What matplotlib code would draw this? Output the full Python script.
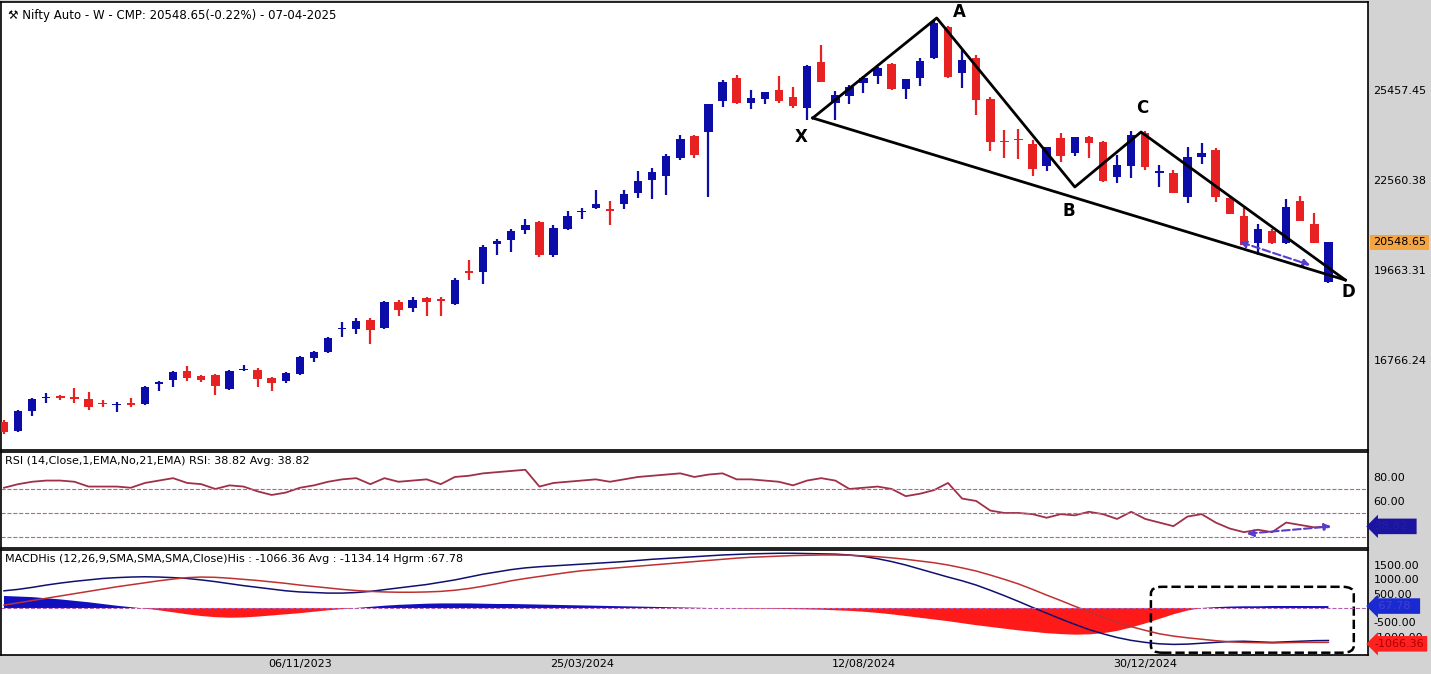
import numpy as np
import matplotlib
matplotlib.use("Agg")
import matplotlib.pyplot as plt
from matplotlib.patches import FancyBboxPatch

# ---------------- data ----------------
opens = [14770,14480,15124,15542,15607,15575,15510,15381,15317,15381,
         15349,15993,16122,16412,16251,16283,15832,16444,16444,16186,
         16090,16315,16830,17023,17764,17764,18054,17796,18633,18440,
         18761,18729,18568,19630,19598,20500,20629,20950,21208,20145,
         20983,21530,21658,21626,21787,22141,22560,22688,23268,23976,
         24105,25103,25843,25038,25168,25457,25232,24877,26358,25038,
         25264,25682,25908,26294,25489,25843,26487,27485,26004,26487,
         25167,23815,23880,23719,23011,23912,23429,23944,23783,22656,
         23011,24073,22785,22785,22013,23300,23526,21980,21401,20532,
         20918,20532,21884,21143,19276]
highs = [14834,15156,15542,15703,15639,15864,15736,15478,15414,15542,
         15929,16090,16412,16573,16283,16315,16444,16605,16508,16219,
         16380,16895,17056,17506,17989,18118,18118,18665,18697,18794,
         18794,18794,19402,19985,20467,20661,20983,21304,21240,21111,
         21562,21658,22238,21884,22238,22850,22946,23397,24008,24008,
         25006,25779,25940,25457,25393,25908,25554,26262,26905,25425,
         25618,25908,26197,26326,25811,26487,27710,27517,26744,26583,
         25232,24169,24202,23847,23622,24073,23944,23976,23815,23365,
         24137,24137,23043,22882,23622,23751,23590,22045,21658,21143,
         20983,21948,22045,21497,20564]
lows = [14384,14448,14963,15381,15478,15381,15156,15253,15092,15253,
        15317,15768,15897,16090,16058,15639,15800,16412,15897,15768,
        16025,16283,16701,16991,17506,17603,17281,17764,18182,18311,
        18182,18182,18536,19338,19212,20145,20242,20822,20081,20081,
        20950,21304,21626,21111,21626,21980,21948,22077,23204,23268,
        22013,24910,25006,24845,25006,25038,24877,24491,25714,24491,
        25006,25360,25650,25457,25167,25586,26455,25843,25521,24652,
        23493,23268,23236,22688,22850,23139,23332,23268,22495,22463,
        22624,22882,22334,22141,21819,23075,21852,21465,20467,20145,
        20500,20500,21240,20532,19244]
closes = [14448,15124,15510,15575,15542,15510,15253,15349,15349,15317,
          15897,16058,16380,16186,16122,15929,16412,16476,16154,16025,
          16347,16862,17023,17474,17796,18021,17731,18633,18375,18697,
          18633,18665,19338,19566,20403,20596,20918,21111,20145,21015,
          21401,21562,21787,21562,22109,22528,22818,23332,23880,23365,
          25006,25714,25038,25200,25393,25103,24942,26229,25714,25296,
          25554,25843,26165,25489,25811,26390,27613,25875,26423,25135,
          23783,23783,23847,22914,23622,23332,23944,23751,22528,23043,
          24008,22978,22850,22141,23300,23429,22013,21465,20467,20983,
          20532,21691,21240,20532,20549]

rsi = [71,74,76,77,77,76,72,72,72,71,75,77,79,75,74,70,73,72,68,65,
       67,71,73,76,78,79,74,79,76,77,78,74,80,81,83,84,85,86,72,75,
       76,77,78,76,78,80,81,82,83,80,82,83,78,78,77,76,73,77,79,77,
       70,71,72,70,64,66,69,75,62,60,52,50,50,49,46,49,48,51,49,45,
       51,45,42,39,47,49,42,37,34,36,34,42,40,38,38.82]
macd = [600,650,720,800,870,930,980,1030,1060,1080,
        1090,1080,1060,1030,980,920,850,780,720,660,
        600,560,540,520,520,540,580,640,700,760,
        820,900,980,1080,1180,1260,1340,1400,1440,1470,
        1500,1530,1560,1590,1620,1660,1700,1730,1760,1790,
        1820,1850,1870,1890,1900,1910,1910,1900,1890,1880,
        1850,1800,1720,1620,1500,1360,1220,1080,950,800,
        620,430,230,20,-180,-380,-570,-750,-900,-1030,
        -1130,-1200,-1250,-1270,-1260,-1230,-1200,-1170,-1160,-1180,
        -1200,-1180,-1160,-1140,-1134]
signal = [100,180,260,340,420,500,580,660,740,810,
          880,950,1010,1060,1080,1070,1040,1000,960,910,
          860,800,750,700,650,610,580,560,550,550,
          560,580,620,680,760,850,950,1030,1100,1170,
          1240,1300,1340,1380,1420,1460,1500,1540,1580,1620,
          1660,1700,1740,1770,1790,1810,1830,1840,1850,1850,
          1840,1820,1790,1750,1700,1640,1580,1500,1400,1290,
          1150,1000,840,650,450,260,60,-130,-320,-500,
          -650,-780,-900,-980,-1040,-1090,-1140,-1180,-1200,-1210,
          -1220,-1210,-1200,-1200,-1200]
hist = [420,400,380,340,300,250,200,140,80,30,
        -20,-80,-150,-220,-280,-320,-340,-330,-300,-260,
        -220,-180,-130,-80,-40,0,40,80,110,130,
        150,160,160,160,150,140,140,130,120,110,
        100,90,80,70,60,50,40,30,20,10,
        0,0,-10,-20,-20,-30,-40,-50,-60,-80,
        -100,-130,-170,-220,-280,-340,-400,-460,-530,-600,
        -660,-720,-780,-830,-880,-910,-930,-920,-880,-800,
        -680,-540,-380,-220,-90,0,30,50,60,60,
        70,70,70,68,68]

price_ticks = [25457.45, 22560.38, 19663.31, 16766.24]
date_idx = [21, 41, 61, 81]
date_labels = ["06/11/2023", "25/03/2024", "12/08/2024", "30/12/2024"]
pat_names = ["X", "A", "B", "C", "D"]
pat_x = [57.4, 66.2, 76.0, 80.7, 95.2]
pat_y = [24556, 27775, 22335, 24105, 19341]

BLUE = "#0c0ca8"
RED = "#e82222"

fig = plt.figure(figsize=(14.31, 6.74), dpi=100, facecolor="#d3d3d3")
W, H = 1431, 674
def rect(x0, y0, x1, y1):
    return [x0 / W, 1 - y1 / H, (x1 - x0) / W, (y1 - y0) / H]

n = len(closes)
idx = np.arange(n)
xl = (-3 / 14.1, 1365 / 14.1)

# ---------------- main ----------------
ax = fig.add_axes(rect(1, 2, 1368, 450))
ax.set_facecolor("white")
for i in range(n):
    up = closes[i] >= opens[i]
    c = BLUE if up else RED
    ax.vlines(i, lows[i], highs[i], color=c, lw=1.6, zorder=2)
    lo, hi = min(opens[i], closes[i]), max(opens[i], closes[i])
    ax.bar(i, max(hi - lo, 25), bottom=lo, width=0.6, color=c, zorder=3)
ax.set_xlim(*xl)
ax.set_ylim(13869, 28290)
# pattern
order = [0, 1, 2, 3, 4]
ax.plot([pat_x[k] for k in order], [pat_y[k] for k in order], color="black", lw=2, zorder=4)
ax.plot([pat_x[0], pat_x[4]], [pat_y[0], pat_y[4]], color="black", lw=2, zorder=4)
offs = {"X": (-0.8, -620), "A": (1.6, 200), "B": (-0.4, -760), "C": (0.1, 780), "D": (0.2, -380)}
for nm, x, y in zip(pat_names, pat_x, pat_y):
    dx, dy = offs[nm]
    ax.text(x + dx, y + dy, nm, fontsize=12, fontweight="bold", ha="center", va="center")
ax.annotate("", xy=(92.9, 19790), xytext=(87.5, 20600),
            arrowprops=dict(arrowstyle="<|-|>", color="#5a3ccc", ls="--", lw=1.5))
ax.text(0.005, 0.985, "\u2692 Nifty Auto - W - CMP: 20548.65(-0.22%) - 07-04-2025",
        transform=ax.transAxes, fontsize=8.5, va="top")
ax.yaxis.tick_right()
ax.set_yticks(price_ticks)
ax.set_yticklabels([f"{t:.2f}" for t in price_ticks], fontsize=8)
ax.tick_params(axis="y", length=0, pad=4)
ax.set_xticks([])
ax.text(1.0035, 20548.65, "20548.65", transform=ax.get_yaxis_transform(), fontsize=8,
        va="center", bbox=dict(boxstyle="square,pad=0.25", fc="#f5a442", ec="none"))
for s in ax.spines.values():
    s.set_linewidth(1.2)

# ---------------- RSI ----------------
ar = fig.add_axes(rect(1, 452, 1368, 548))
ar.plot(idx, rsi, color="#a03048", lw=1.3)
for lv in [70, 50, 30]:
    ar.axhline(lv, color="#b060b0", ls="--", lw=0.8)
ar.set_xlim(*xl)
ar.set_ylim(20.8, 100.8)
ar.yaxis.tick_right()
ar.set_yticks([80, 60])
ar.set_yticklabels(["80.00", "60.00"], fontsize=8)
ar.tick_params(axis="y", length=0, pad=4)
ar.set_xticks([])
ar.annotate("", xy=(94.4, 39), xytext=(88, 32.5),
            arrowprops=dict(arrowstyle="<|-|>", color="#5a3ccc", ls="--", lw=1.5))
ar.text(0.003, 0.96, "RSI (14,Close,1,EMA,No,21,EMA) RSI: 38.82 Avg: 38.82",
        transform=ar.transAxes, fontsize=8, va="top")
ar.text(1.005, 38.82, "38.82  ", transform=ar.get_yaxis_transform(), fontsize=8, color="#2020a0",
        va="center", bbox=dict(boxstyle="larrow,pad=0.25", fc="#1a14a0", ec="none"))
for s in ar.spines.values():
    s.set_linewidth(1.2)

# ---------------- MACD ----------------
am = fig.add_axes(rect(1, 550, 1368, 655))
h = np.array(hist, dtype=float)
am.fill_between(idx, 0, h, where=h >= 0, color="#1010c0", interpolate=True, lw=0)
am.fill_between(idx, 0, h, where=h <= 0, color="#ff1a1a", interpolate=True, lw=0)
am.plot(idx, macd, color="#101070", lw=1.1)
am.plot(idx, signal, color="#c03030", lw=1.1)
am.axhline(0, color="#b060b0", ls="--", lw=0.8)
am.set_xlim(*xl)
am.set_ylim(-1640, 2024)
am.yaxis.tick_right()
mt = [1500, 1000, 500, -500, -1000]
am.set_yticks(mt)
am.set_yticklabels([f"{t:.2f}" for t in mt], fontsize=8)
am.tick_params(axis="y", length=0, pad=4)
am.set_xticks(date_idx)
am.set_xticklabels(date_labels, fontsize=8)
am.tick_params(axis="x", length=0, pad=3)
am.text(0.003, 0.96, "MACDHis (12,26,9,SMA,SMA,SMA,Close)His : -1066.36 Avg : -1134.14 Hgrm :67.78",
        transform=am.transAxes, fontsize=8, va="top")
box = FancyBboxPatch((81.4, -1560), 14.4, 2300, boxstyle="round,pad=0,rounding_size=0.8",
                     fill=False, ec="black", ls="--", lw=1.8, mutation_aspect=300, clip_on=False)
am.add_patch(box)
am.text(1.005, 67.78, " 67.78  ", transform=am.get_yaxis_transform(), fontsize=8, color="#4040d0",
        va="center", bbox=dict(boxstyle="larrow,pad=0.25", fc="#1a2ad0", ec="none"))
am.text(1.005, -1250, "-1066.36", transform=am.get_yaxis_transform(), fontsize=8, color="#b00000",
        va="center", bbox=dict(boxstyle="larrow,pad=0.25", fc="#ff2020", ec="none"))
for s in am.spines.values():
    s.set_linewidth(1.2)

fig.savefig("out.png", dpi=100, facecolor=fig.get_facecolor())
